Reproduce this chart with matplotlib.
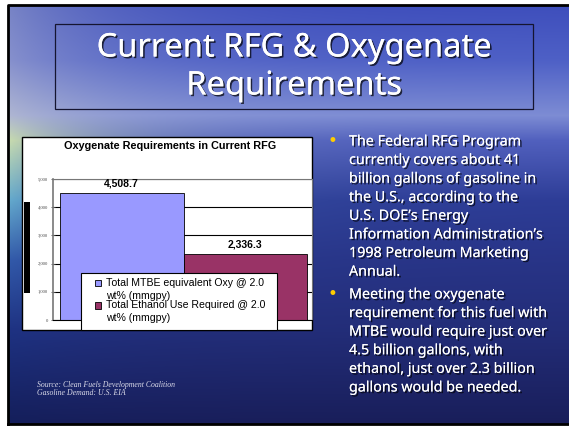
import numpy as np
import matplotlib.pyplot as plt
from matplotlib.patches import Rectangle
from matplotlib.legend_handler import HandlerPatch
import matplotlib.patheffects as pe

# data
series = ["Total MTBE equivalent Oxy @ 2.0\nwt% (mmgpy)",
          "Total Ethanol Use Required @ 2.0\nwt% (mmgpy)"]
values = [4508.7, 2336.3]
bar_colors = ["#9999FF", "#993366"]
yticks = [0, 1000, 2000, 3000, 4000, 5000]

title_lines = ["Current RFG & Oxygenate", "Requirements"]
bullet1 = ["The Federal RFG Program", "currently covers about 41",
           "billion gallons of gasoline in", "the U.S., according to the",
           "U.S. DOE\u2019s Energy", "Information Administration\u2019s",
           "1998 Petroleum Marketing", "Annual."]
bullet2 = ["Meeting the oxygenate", "requirement for this fuel with",
           "MTBE would require just over", "4.5 billion gallons, with",
           "ethanol, just over 2.3 billion", "gallons would be needed."]
source_lines = ["Source: Clean Fuels Development Coalition",
                "Gasoline Demand: U.S. EIA"]

W, H = 569, 426
fig = plt.figure(figsize=(W / 100, H / 100), dpi=100)
fig.patch.set_facecolor("white")

# slide background, pixel coords
bg = fig.add_axes([0, 0, 1, 1])
bg.axis("off")

ys = np.array([5, 60, 115, 140, 200, 260, 330, 424])
left_c = np.array([[120, 132, 198], [135, 145, 205], [175, 182, 210], [200, 220, 175],
                   [100, 170, 205], [50, 90, 170], [30, 50, 130], [20, 30, 90]]) / 255
right_c = np.array([[62, 78, 188], [78, 96, 198], [125, 140, 212], [80, 95, 190],
                    [45, 60, 150], [40, 52, 135], [35, 45, 120], [25, 30, 90]]) / 255
yy = np.arange(5, 425)
xx = np.arange(8, 569)
L = np.stack([np.interp(yy, ys, left_c[:, k]) for k in range(3)], axis=1)
R = np.stack([np.interp(yy, ys, right_c[:, k]) for k in range(3)], axis=1)
wgt = np.exp(-(xx - 8) / 110.0)
img = wgt[None, :, None] * L[:, None, :] + (1 - wgt[None, :, None]) * R[:, None, :]
bg.imshow(img, extent=(8, 569, 425, 5), aspect="auto", zorder=0)
bg.plot([8, 8, 569], [425, 5, 5], color="black", lw=2, zorder=1)
bg.plot([8, 569], [424, 424], color="black", lw=2, zorder=1)
bg.set_xlim(0, W)
bg.set_ylim(H, 0)

shadow = [pe.withSimplePatchShadow(offset=(1.2, -1.2), shadow_rgbFace="black", alpha=0.7), pe.Normal()]

# title
bg.add_patch(Rectangle((55, 24), 478, 85, fill=False, edgecolor="#151530", lw=0.9, zorder=2))
for i, t in enumerate(title_lines):
    bg.text(294, 48 + i * 38, t, color="white", fontsize=23.5, family="Noto Sans",
            ha="center", va="center", zorder=3, path_effects=shadow)

# bullets
for lines, y0 in [(bullet1, 142), (bullet2, 295)]:
    bg.text(332, y0 - 1, "\u2022", color="#FFCC00", fontsize=12, ha="center", va="center", zorder=3)
    for i, t in enumerate(lines):
        bg.text(349, y0 + i * 18.6, t, color="white", fontsize=10.3, family="Noto Sans",
                ha="left", va="center", zorder=3, path_effects=shadow)

# source
for i, t in enumerate(source_lines):
    bg.text(37, 385 + i * 8, t, color="#dcdcea", fontsize=5.6, family="Liberation Serif",
            style="italic", ha="left", va="center", zorder=3)

# chart box
bg.add_patch(Rectangle((22, 137), 290, 193, facecolor="white", edgecolor="black", lw=1, zorder=2))
bg.add_patch(Rectangle((24, 202), 6, 91, facecolor="black", edgecolor="none", zorder=3))
bg.text(170, 146, "Oxygenate Requirements in Current RFG", fontsize=7.8, weight="bold",
        family="Liberation Sans", ha="center", va="center", zorder=3)

ax = fig.add_axes([53 / W, 1 - 320 / H, (312 - 53) / W, (320 - 179) / H])
ax.set_facecolor("white")
bars = ax.bar([0, 1], values, width=1.0, color=bar_colors, edgecolor="black",
              linewidth=0.6, zorder=2)
for b, lab in zip(bars, series):
    b.set_label(lab)
for b, v in zip(bars, values):
    ax.annotate(f"{v:,.1f}", (b.get_x() + b.get_width() / 2, v), xytext=(0, 7),
                textcoords="offset points", ha="center", va="center",
                fontsize=7.5, weight="bold", family="Liberation Sans")
ax.set_xlim(-0.557, 1.54)
ax.set_ylim(0, 5000)
ax.set_yticks(yticks)
ax.set_yticklabels([f"{t:,}" for t in yticks], fontsize=3.3, family="Liberation Serif", color="#444444")
ax.set_xticks([])
ax.tick_params(axis="y", direction="inout", length=3, width=0.6, color="#555555", pad=2)
ax.yaxis.grid(True, color="black", lw=0.8, zorder=0)
ax.set_axisbelow(True)
ax.spines["left"].set_color("#777777")
ax.spines["left"].set_linewidth(1.2)
ax.spines["right"].set_color("#777777")
ax.spines["top"].set_color("#777777")
ax.spines["bottom"].set_color("black")


# legend square sits beside the first line of its label
def top_square(legend, orig_handle, xdescent, ydescent, width, height, fontsize):
    return Rectangle((-xdescent, -ydescent + 0.62 * fontsize), width, height)


ax.add_patch(Rectangle((81, 273), 196, 57, facecolor="white", edgecolor="black", lw=0.8,
                       transform=bg.transData, clip_on=False, zorder=4))
leg = ax.legend(loc="upper left", bbox_to_anchor=(93 / W, 1 - 276 / H), bbox_transform=fig.transFigure,
                borderaxespad=0, prop={"family": "Liberation Sans", "size": 7.6},
                handlelength=0.6, handleheight=0.6, handletextpad=0.45, labelspacing=-0.05,
                borderpad=0.2, frameon=False,
                handler_map={Rectangle: HandlerPatch(patch_func=top_square)})
for t in leg.get_texts():
    t.set_linespacing(1.32)
leg.set_zorder(5)

fig.savefig("out.png", dpi=100)
